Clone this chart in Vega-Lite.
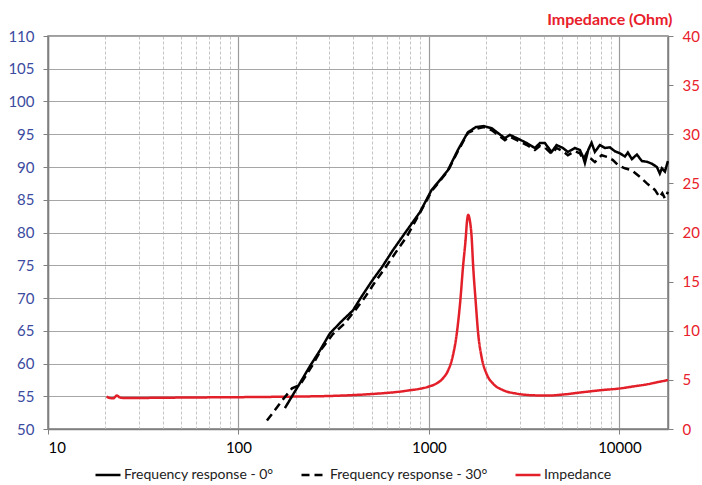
{
  "$schema": "https://vega.github.io/schema/vega-lite/v6.json",
  "width": 620,
  "height": 393,
  "autosize": {"type": "none"},
  "padding": {"left": 48, "top": 36, "right": 34, "bottom": 56},
  "background": "white",
  "config": {
    "font": "Lato",
    "view": {"stroke": "#7f7f7f", "strokeWidth": 1.5},
    "legend": {
      "orient": "none",
      "legendX": 46,
      "legendY": 425,
      "direction": "horizontal",
      "symbolType": "stroke",
      "symbolSize": 625,
      "symbolStrokeWidth": 2.5,
      "labelFontSize": 14,
      "labelColor": "#222222",
      "labelOffset": 2,
      "columnPadding": 22,
      "title": null
    }
  },
  "datasets": {
    "fr": [
      {"s": "Frequency response - 0°", "f": 175.4, "v": 53.2},
      {"s": "Frequency response - 0°", "f": 190.2, "v": 54.9},
      {"s": "Frequency response - 0°", "f": 210.2, "v": 57.0},
      {"s": "Frequency response - 0°", "f": 237.3, "v": 59.6},
      {"s": "Frequency response - 0°", "f": 267.8, "v": 62.0},
      {"s": "Frequency response - 0°", "f": 302.2, "v": 64.6},
      {"s": "Frequency response - 0°", "f": 349.3, "v": 66.5},
      {"s": "Frequency response - 0°", "f": 399, "v": 68.1},
      {"s": "Frequency response - 0°", "f": 444.9, "v": 70.3},
      {"s": "Frequency response - 0°", "f": 502, "v": 72.6},
      {"s": "Frequency response - 0°", "f": 566.6, "v": 74.7},
      {"s": "Frequency response - 0°", "f": 647, "v": 77.3},
      {"s": "Frequency response - 0°", "f": 748, "v": 79.9},
      {"s": "Frequency response - 0°", "f": 897, "v": 83.1},
      {"s": "Frequency response - 0°", "f": 1033, "v": 86.5},
      {"s": "Frequency response - 0°", "f": 1142, "v": 88.0},
      {"s": "Frequency response - 0°", "f": 1258, "v": 89.5},
      {"s": "Frequency response - 0°", "f": 1419, "v": 92.6},
      {"s": "Frequency response - 0°", "f": 1602, "v": 95.3},
      {"s": "Frequency response - 0°", "f": 1765, "v": 96.1},
      {"s": "Frequency response - 0°", "f": 1944, "v": 96.25},
      {"s": "Frequency response - 0°", "f": 2141, "v": 95.9},
      {"s": "Frequency response - 0°", "f": 2302, "v": 95.2},
      {"s": "Frequency response - 0°", "f": 2506, "v": 94.4},
      {"s": "Frequency response - 0°", "f": 2662, "v": 94.9},
      {"s": "Frequency response - 0°", "f": 2896, "v": 94.4},
      {"s": "Frequency response - 0°", "f": 3268, "v": 93.65},
      {"s": "Frequency response - 0°", "f": 3601, "v": 92.9},
      {"s": "Frequency response - 0°", "f": 3825, "v": 93.65},
      {"s": "Frequency response - 0°", "f": 4064, "v": 93.65},
      {"s": "Frequency response - 0°", "f": 4407, "v": 92.3},
      {"s": "Frequency response - 0°", "f": 4680, "v": 93.35},
      {"s": "Frequency response - 0°", "f": 5051, "v": 92.9},
      {"s": "Frequency response - 0°", "f": 5365, "v": 92.3},
      {"s": "Frequency response - 0°", "f": 5839, "v": 92.9},
      {"s": "Frequency response - 0°", "f": 6203, "v": 92.6},
      {"s": "Frequency response - 0°", "f": 6457, "v": 91.5},
      {"s": "Frequency response - 0°", "f": 6591, "v": 90.6},
      {"s": "Frequency response - 0°", "f": 6860, "v": 92.6},
      {"s": "Frequency response - 0°", "f": 7146, "v": 93.7},
      {"s": "Frequency response - 0°", "f": 7435, "v": 92.3},
      {"s": "Frequency response - 0°", "f": 7898, "v": 93.35},
      {"s": "Frequency response - 0°", "f": 8392, "v": 92.9},
      {"s": "Frequency response - 0°", "f": 8916, "v": 93.0},
      {"s": "Frequency response - 0°", "f": 9471, "v": 92.4},
      {"s": "Frequency response - 0°", "f": 10060, "v": 92.1},
      {"s": "Frequency response - 0°", "f": 10690, "v": 91.6},
      {"s": "Frequency response - 0°", "f": 11080, "v": 92.2},
      {"s": "Frequency response - 0°", "f": 11630, "v": 91.2},
      {"s": "Frequency response - 0°", "f": 12360, "v": 91.9},
      {"s": "Frequency response - 0°", "f": 13130, "v": 90.9},
      {"s": "Frequency response - 0°", "f": 13950, "v": 90.8},
      {"s": "Frequency response - 0°", "f": 14810, "v": 90.5},
      {"s": "Frequency response - 0°", "f": 15740, "v": 90.0},
      {"s": "Frequency response - 0°", "f": 16300, "v": 89.0},
      {"s": "Frequency response - 0°", "f": 16720, "v": 89.8},
      {"s": "Frequency response - 0°", "f": 17340, "v": 89.3},
      {"s": "Frequency response - 0°", "f": 17980, "v": 90.9},
      {"s": "Frequency response - 30°", "f": 141.1, "v": 51.3},
      {"s": "Frequency response - 30°", "f": 155.5, "v": 52.9},
      {"s": "Frequency response - 30°", "f": 171.2, "v": 54.5},
      {"s": "Frequency response - 30°", "f": 190.9, "v": 56.2},
      {"s": "Frequency response - 30°", "f": 210, "v": 56.7},
      {"s": "Frequency response - 30°", "f": 243, "v": 59.6},
      {"s": "Frequency response - 30°", "f": 274.4, "v": 62.3},
      {"s": "Frequency response - 30°", "f": 313.4, "v": 64.5},
      {"s": "Frequency response - 30°", "f": 362.3, "v": 66.15},
      {"s": "Frequency response - 30°", "f": 414, "v": 68.3},
      {"s": "Frequency response - 30°", "f": 461, "v": 70.1},
      {"s": "Frequency response - 30°", "f": 520.5, "v": 72.4},
      {"s": "Frequency response - 30°", "f": 587.5, "v": 74.55},
      {"s": "Frequency response - 30°", "f": 671, "v": 77.0},
      {"s": "Frequency response - 30°", "f": 766, "v": 79.4},
      {"s": "Frequency response - 30°", "f": 897, "v": 83.0},
      {"s": "Frequency response - 30°", "f": 1033, "v": 86.3},
      {"s": "Frequency response - 30°", "f": 1258, "v": 89.4},
      {"s": "Frequency response - 30°", "f": 1419, "v": 92.4},
      {"s": "Frequency response - 30°", "f": 1602, "v": 95.2},
      {"s": "Frequency response - 30°", "f": 1765, "v": 95.8},
      {"s": "Frequency response - 30°", "f": 1944, "v": 96.1},
      {"s": "Frequency response - 30°", "f": 2141, "v": 95.6},
      {"s": "Frequency response - 30°", "f": 2302, "v": 94.9},
      {"s": "Frequency response - 30°", "f": 2506, "v": 94.1},
      {"s": "Frequency response - 30°", "f": 2662, "v": 94.6},
      {"s": "Frequency response - 30°", "f": 2896, "v": 94.1},
      {"s": "Frequency response - 30°", "f": 3268, "v": 93.35},
      {"s": "Frequency response - 30°", "f": 3601, "v": 92.6},
      {"s": "Frequency response - 30°", "f": 3825, "v": 93.2},
      {"s": "Frequency response - 30°", "f": 4064, "v": 93.0},
      {"s": "Frequency response - 30°", "f": 4407, "v": 92.0},
      {"s": "Frequency response - 30°", "f": 4680, "v": 92.9},
      {"s": "Frequency response - 30°", "f": 5051, "v": 92.4},
      {"s": "Frequency response - 30°", "f": 5365, "v": 91.8},
      {"s": "Frequency response - 30°", "f": 5839, "v": 92.4},
      {"s": "Frequency response - 30°", "f": 6203, "v": 92.1},
      {"s": "Frequency response - 30°", "f": 6457, "v": 91.05},
      {"s": "Frequency response - 30°", "f": 6727, "v": 92.1},
      {"s": "Frequency response - 30°", "f": 7000, "v": 91.4},
      {"s": "Frequency response - 30°", "f": 7435, "v": 90.75},
      {"s": "Frequency response - 30°", "f": 8066, "v": 91.8},
      {"s": "Frequency response - 30°", "f": 8703, "v": 91.5},
      {"s": "Frequency response - 30°", "f": 9245, "v": 91.05},
      {"s": "Frequency response - 30°", "f": 9820, "v": 90.3},
      {"s": "Frequency response - 30°", "f": 10690, "v": 89.8},
      {"s": "Frequency response - 30°", "f": 11630, "v": 89.5},
      {"s": "Frequency response - 30°", "f": 12810, "v": 88.5},
      {"s": "Frequency response - 30°", "f": 13950, "v": 87.5},
      {"s": "Frequency response - 30°", "f": 15370, "v": 86.5},
      {"s": "Frequency response - 30°", "f": 16260, "v": 85.4},
      {"s": "Frequency response - 30°", "f": 16800, "v": 86.0},
      {"s": "Frequency response - 30°", "f": 17340, "v": 85.2},
      {"s": "Frequency response - 30°", "f": 17980, "v": 86.2}
    ],
    "imp": [
      {"s": "Impedance", "f": 20.3, "z": 3.3},
      {"s": "Impedance", "f": 21.2, "z": 3.15},
      {"s": "Impedance", "f": 22.0, "z": 3.12},
      {"s": "Impedance", "f": 23.0, "z": 3.4},
      {"s": "Impedance", "f": 23.8, "z": 3.22},
      {"s": "Impedance", "f": 25, "z": 3.15},
      {"s": "Impedance", "f": 30, "z": 3.16},
      {"s": "Impedance", "f": 40, "z": 3.18},
      {"s": "Impedance", "f": 50, "z": 3.2},
      {"s": "Impedance", "f": 70, "z": 3.22},
      {"s": "Impedance", "f": 100, "z": 3.24},
      {"s": "Impedance", "f": 150, "z": 3.27},
      {"s": "Impedance", "f": 200, "z": 3.3},
      {"s": "Impedance", "f": 300, "z": 3.36},
      {"s": "Impedance", "f": 400, "z": 3.45},
      {"s": "Impedance", "f": 500, "z": 3.56},
      {"s": "Impedance", "f": 600, "z": 3.67},
      {"s": "Impedance", "f": 700, "z": 3.8},
      {"s": "Impedance", "f": 800, "z": 3.95},
      {"s": "Impedance", "f": 900, "z": 4.1},
      {"s": "Impedance", "f": 1000, "z": 4.32},
      {"s": "Impedance", "f": 1100, "z": 4.65},
      {"s": "Impedance", "f": 1190, "z": 5.2},
      {"s": "Impedance", "f": 1257, "z": 5.9},
      {"s": "Impedance", "f": 1330, "z": 7.3},
      {"s": "Impedance", "f": 1400, "z": 9.7},
      {"s": "Impedance", "f": 1462, "z": 13.1},
      {"s": "Impedance", "f": 1510, "z": 16.5},
      {"s": "Impedance", "f": 1557, "z": 19.2},
      {"s": "Impedance", "f": 1588, "z": 21.3},
      {"s": "Impedance", "f": 1608, "z": 21.8},
      {"s": "Impedance", "f": 1625, "z": 21.6},
      {"s": "Impedance", "f": 1641, "z": 21.2},
      {"s": "Impedance", "f": 1675, "z": 19.6},
      {"s": "Impedance", "f": 1708, "z": 16.5},
      {"s": "Impedance", "f": 1758, "z": 13.1},
      {"s": "Impedance", "f": 1814, "z": 9.7},
      {"s": "Impedance", "f": 1891, "z": 7.3},
      {"s": "Impedance", "f": 2009, "z": 5.6},
      {"s": "Impedance", "f": 2175, "z": 4.6},
      {"s": "Impedance", "f": 2455, "z": 3.95},
      {"s": "Impedance", "f": 2887, "z": 3.6},
      {"s": "Impedance", "f": 3528, "z": 3.43},
      {"s": "Impedance", "f": 4228, "z": 3.4},
      {"s": "Impedance", "f": 5000, "z": 3.5},
      {"s": "Impedance", "f": 6457, "z": 3.75},
      {"s": "Impedance", "f": 8000, "z": 3.95},
      {"s": "Impedance", "f": 10000, "z": 4.12},
      {"s": "Impedance", "f": 12000, "z": 4.35},
      {"s": "Impedance", "f": 14000, "z": 4.55},
      {"s": "Impedance", "f": 16000, "z": 4.78},
      {"s": "Impedance", "f": 18000, "z": 4.98}
    ]
  },
  "layer": [
    {
      "data": {"name": "imp"},
      "mark": {"type": "line", "strokeWidth": 2.5, "interpolate": "monotone"},
      "encoding": {
        "x": {
          "field": "f", "type": "quantitative",
          "scale": {"type": "log", "domain": [10, 18000], "nice": false},
          "axis": {
            "orient": "bottom",
            "values": [20, 30, 40, 50, 60, 70, 80, 90, 200, 300, 400, 500, 600, 700, 800, 900, 2000, 3000, 4000, 5000, 6000, 7000, 8000, 9000],
            "grid": true, "gridDash": [3, 2], "gridColor": "#c4c4c4", "gridWidth": 1,
            "labels": false, "ticks": false, "domain": false, "title": null
          }
        },
        "y": {
          "field": "z", "type": "quantitative",
          "scale": {"domain": [0, 40], "nice": false},
          "axis": {
            "orient": "right",
            "values": [0, 5, 10, 15, 20, 25, 30, 35, 40],
            "grid": false,
            "labelColor": "#E8202A", "labelFontSize": 15, "labelPadding": 9,
            "tickSize": 5, "tickColor": "#808080", "domainColor": "#808080", "domainWidth": 1.5,
            "title": "Impedance (Ohm)",
            "titleAngle": 0, "titleAlign": "right", "titleBaseline": "alphabetic",
            "titleX": 4, "titleY": -12,
            "titleFontSize": 16, "titleFontWeight": "bold", "titleColor": "#E8202A"
          }
        },
        "color": {
          "field": "s", "type": "nominal",
          "scale": {"domain": ["Frequency response - 0°", "Frequency response - 30°", "Impedance"], "range": ["#000000", "#000000", "#E3202A"]}
        },
        "strokeDash": {
          "field": "s", "type": "nominal",
          "scale": {"domain": ["Frequency response - 0°", "Frequency response - 30°", "Impedance"], "range": [[1, 0], [8, 5], [1, 0]]}
        }
      }
    },
    {
      "data": {"name": "fr"},
      "mark": {"type": "line", "strokeWidth": 2.5},
      "encoding": {
        "x": {
          "field": "f", "type": "quantitative",
          "scale": {"type": "log", "domain": [10, 18000], "nice": false},
          "axis": {
            "orient": "bottom",
            "values": [10, 100, 1000, 10000], "format": "d",
            "grid": true, "gridColor": "#9a9a9a", "gridWidth": 1.2,
            "labelFontSize": 15, "labelColor": "#000000", "labelPadding": 6,
            "tickSize": 5, "tickColor": "#808080", "domainColor": "#808080", "domainWidth": 1.5,
            "title": null
          }
        },
        "y": {
          "field": "v", "type": "quantitative",
          "scale": {"domain": [50, 110], "nice": false},
          "axis": {
            "orient": "left",
            "values": [50, 55, 60, 65, 70, 75, 80, 85, 90, 95, 100, 105, 110],
            "grid": true, "gridColor": "#a6a6a6", "gridWidth": 1.2,
            "labelColor": "#3B4BA0", "labelFontSize": 15, "labelPadding": 9,
            "tickSize": 5, "tickColor": "#808080", "domainColor": "#808080", "domainWidth": 1.5,
            "title": null
          }
        },
        "color": {
          "field": "s", "type": "nominal",
          "scale": {"domain": ["Frequency response - 0°", "Frequency response - 30°", "Impedance"], "range": ["#000000", "#000000", "#E3202A"]}
        },
        "strokeDash": {
          "field": "s", "type": "nominal",
          "scale": {"domain": ["Frequency response - 0°", "Frequency response - 30°", "Impedance"], "range": [[1, 0], [8, 5], [1, 0]]}
        }
      }
    }
  ],
  "resolve": {"scale": {"y": "independent"}, "axis": {"x": "independent"}}
}
